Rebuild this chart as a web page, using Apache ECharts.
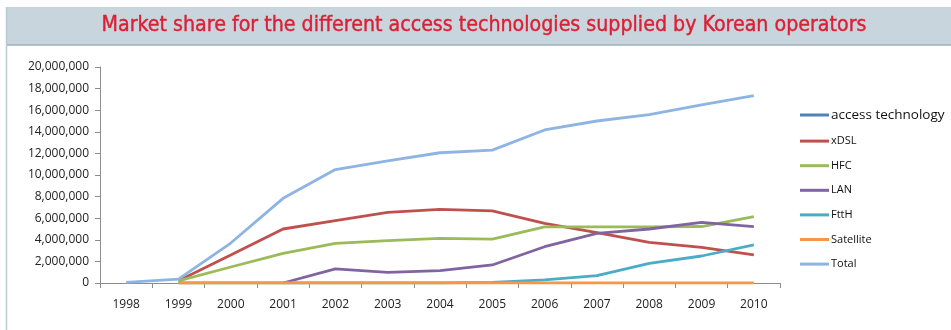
<!DOCTYPE html>
<html>
<head>
<meta charset="utf-8">
<script src="https://cdn.jsdelivr.net/npm/echarts@6/dist/echarts.min.js"></script>
<style>
  html, body { margin: 0; padding: 0; background: #ffffff; }
  #chart { width: 951px; height: 330px; }
</style>
</head>
<body>
<div id="chart"></div>
<script>
// Subscribers by access technology, Korean operators, 1998-2010
const years = ['1998', '1999', '2000', '2001', '2002', '2003', '2004', '2005', '2006', '2007', '2008', '2009', '2010'];
const accessTechnology = [];
const xDSL      = [null, 200000, 2600000, 5000000, 5770000, 6540000, 6820000, 6670000, 5520000, 4660000, 3770000, 3300000, 2600000];
const HFC       = [null, 200000, 1480000, 2750000, 3670000, 3920000, 4130000, 4070000, 5200000, 5200000, 5200000, 5230000, 6140000];
const LAN       = [null, null, null, 0, 1300000, 990000, 1140000, 1670000, 3360000, 4600000, 5000000, 5620000, 5220000];
const FttH      = [null, 0, 0, 0, 0, 0, 0, 50000, 280000, 680000, 1820000, 2500000, 3520000];
const Satellite = [null, 0, 0, 0, 0, 0, 0, 0, 0, 0, 0, 0, 0];
const Total     = [50000, 350000, 3700000, 7840000, 10500000, 11300000, 12060000, 12300000, 14170000, 15000000, 15600000, 16500000, 17350000];
const yTicks = { min: 0, max: 20000000, interval: 2000000 };

const seriesDefs = [
  ['access technology', accessTechnology, '#4f81bd'],
  ['xDSL', xDSL, '#c0504d'],
  ['HFC', HFC, '#9bbb59'],
  ['LAN', LAN, '#8064a2'],
  ['FttH', FttH, '#4bacc6'],
  ['Satellite', Satellite, '#f79646'],
  ['Total', Total, '#8eb4e3']
];

const chart = echarts.init(document.getElementById('chart'), null, { renderer: 'canvas' });

chart.setOption({
  animation: false,
  backgroundColor: '#ffffff',
  textStyle: { fontFamily: '"Open Sans", "Noto Sans", sans-serif' },
  graphic: [
    // header band
    { type: 'rect', shape: { x: 6, y: 7, width: 945, height: 38 }, style: { fill: '#c8d5dd' }, silent: true, z: -10 },
    { type: 'line', shape: { x1: 6, y1: 45, x2: 951, y2: 45 }, style: { stroke: '#9fb1bd', lineWidth: 1.5 }, silent: true, z: -9 },
    // left frame of the panel
    { type: 'line', shape: { x1: 6.5, y1: 7, x2: 6.5, y2: 330 }, style: { stroke: '#b8cad6', lineWidth: 1.5 }, silent: true, z: -9 }
  ],
  title: {
    text: 'Market share for the different access technologies supplied by Korean operators',
    left: 479,
    textAlign: 'center',
    top: 10,
    textStyle: {
      color: '#dc1f36',
      fontFamily: '"DejaVu Sans Condensed", sans-serif',
      fontWeight: 'normal',
      fontSize: 21.2,
      textBorderColor: '#dc1f36',
      textBorderWidth: 0.4
    }
  },
  legend: {
    orient: 'vertical',
    left: 800,
    top: 108,
    padding: 0,
    itemWidth: 29,
    itemHeight: 3,
    itemGap: 13.6,
    icon: 'rect',
    textStyle: { color: '#111', fontSize: 11, padding: [0, 0, 0, -3] },
    data: seriesDefs.map(([name], i) => i === 0
      ? { name, textStyle: { fontSize: 13.5 } }
      : { name })
  },
  grid: { left: 100, right: 171, top: 67, bottom: 47 },
  xAxis: {
    type: 'category',
    data: years,
    boundaryGap: true,
    axisLine: { lineStyle: { color: '#8c8c8c', width: 1 } },
    axisTick: { show: true, length: 5, lineStyle: { color: '#8c8c8c' } },
    axisLabel: { color: '#222', fontSize: 12, margin: 16 }
  },
  yAxis: {
    type: 'value',
    min: yTicks.min,
    max: yTicks.max,
    interval: yTicks.interval,
    axisLine: { show: true, lineStyle: { color: '#8c8c8c', width: 1 } },
    axisTick: { show: true, length: 5, lineStyle: { color: '#8c8c8c' } },
    splitLine: { show: false },
    axisLabel: {
      color: '#222',
      fontSize: 12,
      margin: 11,
      formatter: v => v.toLocaleString('en-US')
    }
  },
  series: seriesDefs.map(([name, data, color]) => ({
    name,
    type: 'line',
    data,
    symbol: 'none',
    connectNulls: false,
    lineStyle: { color, width: 2.8 },
    itemStyle: { color }
  }))
});
</script>
</body>
</html>
